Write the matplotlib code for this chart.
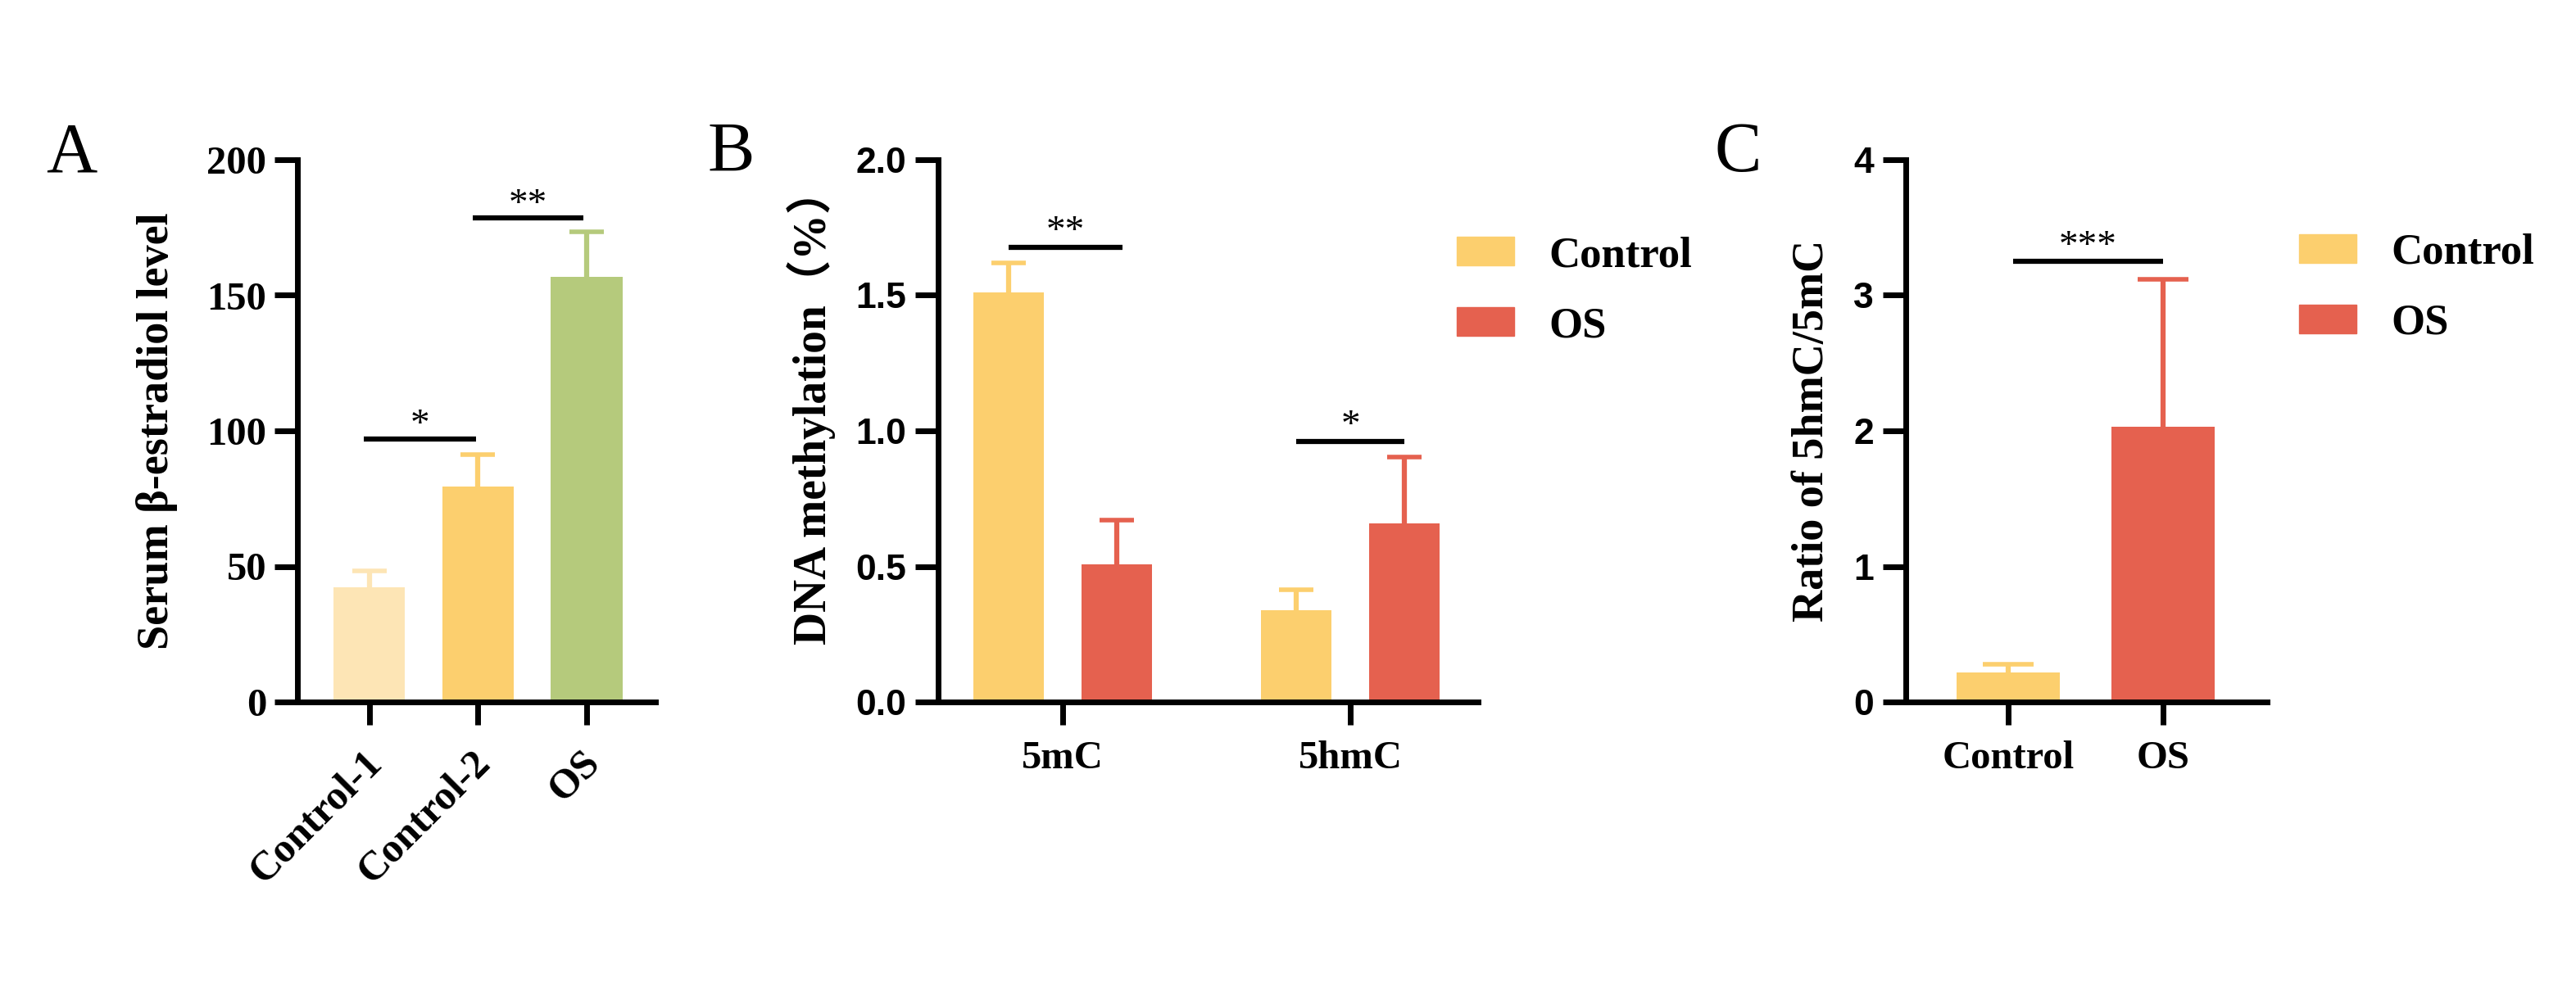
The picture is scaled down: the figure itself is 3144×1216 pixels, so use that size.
import matplotlib
matplotlib.use("Agg")
import matplotlib.pyplot as plt
import matplotlib.transforms as mtransforms
from matplotlib.patches import Patch
import numpy as np

W, H = 3144, 1216

# panel A
a_groups = ['Control-1', 'Control-2', 'OS']
a_means = [42.4, 79.5, 156.8]
a_errs = [6.0, 11.7, 16.6]
a_colors = ['#FDE5B5', '#FCCF6E', '#B5CA7C']

# panel B
b_groups = ['5mC', '5hmC']
b_control = [1.512, 0.339]
b_control_err = [0.106, 0.076]
b_os = [0.507, 0.658]
b_os_err = [0.165, 0.245]

# panel C
c_groups = ['Control', 'OS']
c_means = [0.22, 2.03]
c_errs = [0.055, 1.09]

YELLOW = '#FCCF6E'
RED = '#E5614F'

serif = ['Liberation Serif', 'DejaVu Serif']
narrow = ['Liberation Sans Narrow', 'Liberation Sans', 'DejaVu Sans']
cjk = ['Liberation Serif', 'Noto Sans CJK SC', 'DejaVu Sans']

fig = plt.figure(figsize=(W / 100, H / 100), dpi=100)


def px_axes(left, right, top=195, bottom=857):
    return fig.add_axes([left / W, (H - bottom) / H, (right - left) / W, (bottom - top) / H])


def style(ax, tickfamily, size):
    for s in ['top', 'right']:
        ax.spines[s].set_visible(False)
    for s in ['left', 'bottom']:
        ax.spines[s].set_linewidth(5)
    ax.tick_params(width=5, length=20, direction='out', pad=8)
    for lab in ax.get_yticklabels():
        lab.set_family(tickfamily)
        lab.set_fontweight('bold')
        lab.set_fontsize(size)


def upper_err(ax, x, y, err, color, capsize):
    # one-sided error bar: hide the lower cap
    _, caps, _ = ax.errorbar(x, y, yerr=[np.zeros(len(x)), err], fmt='none', ecolor=color,
                             elinewidth=4.5, capsize=capsize, capthick=4, zorder=1)
    caps[0].set_visible(False)


def sig(ax, x1, x2, y, text, dy):
    ax.plot([x1, x2], [y, y], color='black', lw=4.5, solid_capstyle='butt')
    ax.text((x1 + x2) / 2, y + dy, text, ha='center', va='baseline',
            fontsize=34, family=serif)


def legend(ax, left, top):
    ax.legend(handles=[Patch(color=YELLOW), Patch(color=RED)], labels=['Control', 'OS'],
              loc='upper left', bbox_to_anchor=(left / W, 1 - top / H),
              bbox_transform=fig.transFigure, frameon=False, borderpad=0, borderaxespad=0,
              handlelength=1.33, handleheight=0.65, handletextpad=0.8, labelspacing=0.72,
              prop={'family': serif, 'weight': 'bold', 'size': 38})


# ---------- A ----------
axA = px_axes(363, 800)
xa = np.arange(len(a_groups))
axA.bar(xa, a_means, width=0.66, color=a_colors, zorder=2)
for i in range(len(xa)):
    upper_err(axA, [xa[i]], [a_means[i]], [a_errs[i]], a_colors[i], 15)
axA.set_xlim(-0.66, 2.63)
axA.set_ylim(0, 200)
axA.set_yticks([0, 50, 100, 150, 200])
axA.set_xticks(xa)
axA.set_xticklabels(a_groups, rotation=45, ha='right', va='top', rotation_mode='anchor',
                    fontsize=36, fontweight='bold', family=serif)
style(axA, serif, 35)
axA.tick_params(axis='y', pad=7)
shift = mtransforms.ScaledTranslation(-0.08, -0.12, fig.dpi_scale_trans)
for lab in axA.get_xticklabels():
    lab.set_transform(lab.get_transform() + shift)
sig(axA, -0.05, 0.98, 97.0, '*', 1.5)
sig(axA, 0.95, 1.97, 178.4, '**', 1.5)
fig.text(192 / W, 1 - 526 / H, 'Serum β-estradiol level', rotation=90, ha='center', va='center',
         fontsize=39, fontweight='bold', family=serif)

# ---------- B ----------
axB = px_axes(1145, 1804)
xb = np.arange(len(b_groups))
off, bw = 0.1875, 0.245
axB.bar(xb - off, b_control, width=bw, color=YELLOW, zorder=2)
axB.bar(xb + off, b_os, width=bw, color=RED, zorder=2)
upper_err(axB, xb - off, b_control, b_control_err, YELLOW, 15)
upper_err(axB, xb + off, b_os, b_os_err, RED, 15)
axB.set_xlim(-0.433, 1.444)
axB.set_ylim(0, 2.0)
axB.set_yticks([0, 0.5, 1.0, 1.5, 2.0])
axB.set_yticklabels(['0.0', '0.5', '1.0', '1.5', '2.0'])
axB.set_xticks(xb)
axB.set_xticklabels(b_groups, fontsize=35, fontweight='bold', family=serif)
style(axB, narrow, 32)
axB.tick_params(axis='x', pad=14)
sig(axB, -off, off + 0.02, 1.677, '**', 0.02)
sig(axB, 1 - off, 1 + off, 0.962, '*', 0.02)
fig.text(990 / W, 1 - 496 / H, 'DNA methylation（%）', rotation=90, ha='center', va='center',
         fontsize=40, fontweight='bold', family=cjk)
legend(axB, 1778, 288)

# ---------- C ----------
axC = px_axes(2326, 2767)
xc = np.arange(len(c_groups))
axC.bar(xc, c_means, width=0.667, color=[YELLOW, RED], zorder=2)
upper_err(axC, [xc[0]], [c_means[0]], [c_errs[0]], YELLOW, 22)
upper_err(axC, [xc[1]], [c_means[1]], [c_errs[1]], RED, 22)
axC.set_xlim(-0.661, 1.672)
axC.set_ylim(0, 4)
axC.set_yticks([0, 1, 2, 3, 4])
axC.set_xticks(xc)
axC.set_xticklabels(c_groups, fontsize=35, fontweight='bold', family=serif)
style(axC, narrow, 32)
axC.tick_params(axis='x', pad=14)
sig(axC, 0.03, 1.0, 3.25, '***', 0.04)
fig.text(2212 / W, 1 - 526 / H, 'Ratio of 5hmC/5mC', rotation=90, ha='center', va='center',
         fontsize=39, fontweight='bold', family=serif)
legend(axC, 2806, 285)

# panel letters
for x, letter in [(56, 'A'), (864, 'B'), (2092, 'C')]:
    fig.text(x / W, 1 - 209 / H, letter, fontsize=62, family=serif, va='baseline', ha='left')

fig.savefig('out.png', dpi=100, facecolor='white')
